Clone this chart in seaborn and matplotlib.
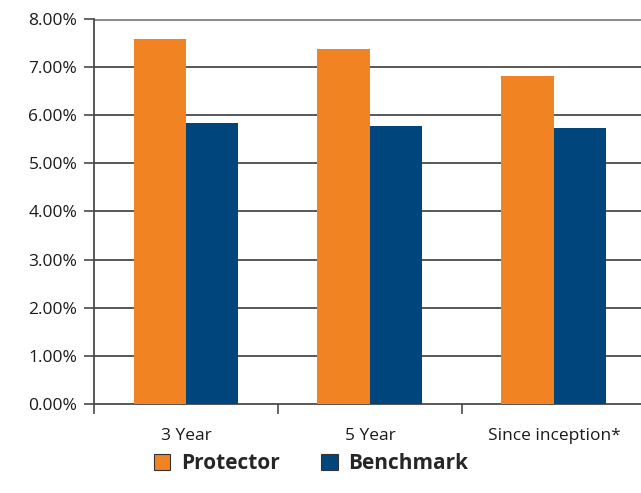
import matplotlib
matplotlib.use("Agg")
import matplotlib.pyplot as plt
import seaborn as sns
import pandas as pd
import numpy as np
from matplotlib.ticker import FuncFormatter, FixedLocator

periods = ["3 Year", "5 Year", "Since inception*"]
protector = [7.59, 7.38, 6.82]
benchmark = [5.84, 5.78, 5.74]
series_names = ["Protector", "Benchmark"]
colors = ["#F28322", "#00457C"]

df = pd.DataFrame({
    "period": periods * 2,
    "value": protector + benchmark,
    "series": [series_names[0]] * 3 + [series_names[1]] * 3,
})

sns.set_style("white")
plt.rcParams["font.family"] = ["Open Sans", "DejaVu Sans"]

fig = plt.figure(figsize=(6.41, 4.93), dpi=100)
ax = fig.add_axes([0.1466, 0.1805, 0.861, 0.781])

sns.barplot(data=df, x="period", y="value", hue="series", palette=colors,
            width=0.57, saturation=1, ax=ax, legend=False, zorder=3,
            linewidth=0, edgecolor="none")

ax.set_xlim(-0.5, 2.5)
ax.set_ylim(0, 8)
ax.set_yticks(np.arange(0, 9, 1))
ax.yaxis.set_major_formatter(FuncFormatter(lambda v, p: f"{v:.2f}%"))

# horizontal gridlines
for v in range(1, 8):
    ax.axhline(v, color="#4a4a4a", lw=1.3, zorder=1)
ax.axhline(8, color="#8c8c8c", lw=2.2, zorder=1)

for s in ["top", "right"]:
    ax.spines[s].set_visible(False)
ax.spines["left"].set_color("#4a4a4a")
ax.spines["left"].set_linewidth(1.3)
ax.spines["bottom"].set_color("#4a4a4a")
ax.spines["bottom"].set_linewidth(1.3)

ax.tick_params(axis="y", which="major", left=True, length=7, width=1.2,
               color="#4a4a4a", labelsize=12.5, labelcolor="#1a1a1a", pad=5)
ax.tick_params(axis="x", which="major", bottom=False, labelsize=12.5,
               labelcolor="#1a1a1a", pad=14)
ax.xaxis.set_minor_locator(FixedLocator([-0.5, 0.5, 1.5]))
ax.tick_params(axis="x", which="minor", bottom=True, length=7, width=1.2,
               color="#4a4a4a")
ax.set_xlabel("")
ax.set_ylabel("")

handles = [plt.Rectangle((0, 0), 1, 1, facecolor=c, edgecolor="#333333", lw=0.8)
           for c in colors]
fig.legend(handles, series_names, loc="center", bbox_to_anchor=(0.485, 0.060),
           ncol=2, frameon=False, prop={"weight": "bold", "size": 15},
           handlelength=0.8, handleheight=0.8, handletextpad=0.5,
           columnspacing=2.0)

fig.savefig("out.png", dpi=100)
